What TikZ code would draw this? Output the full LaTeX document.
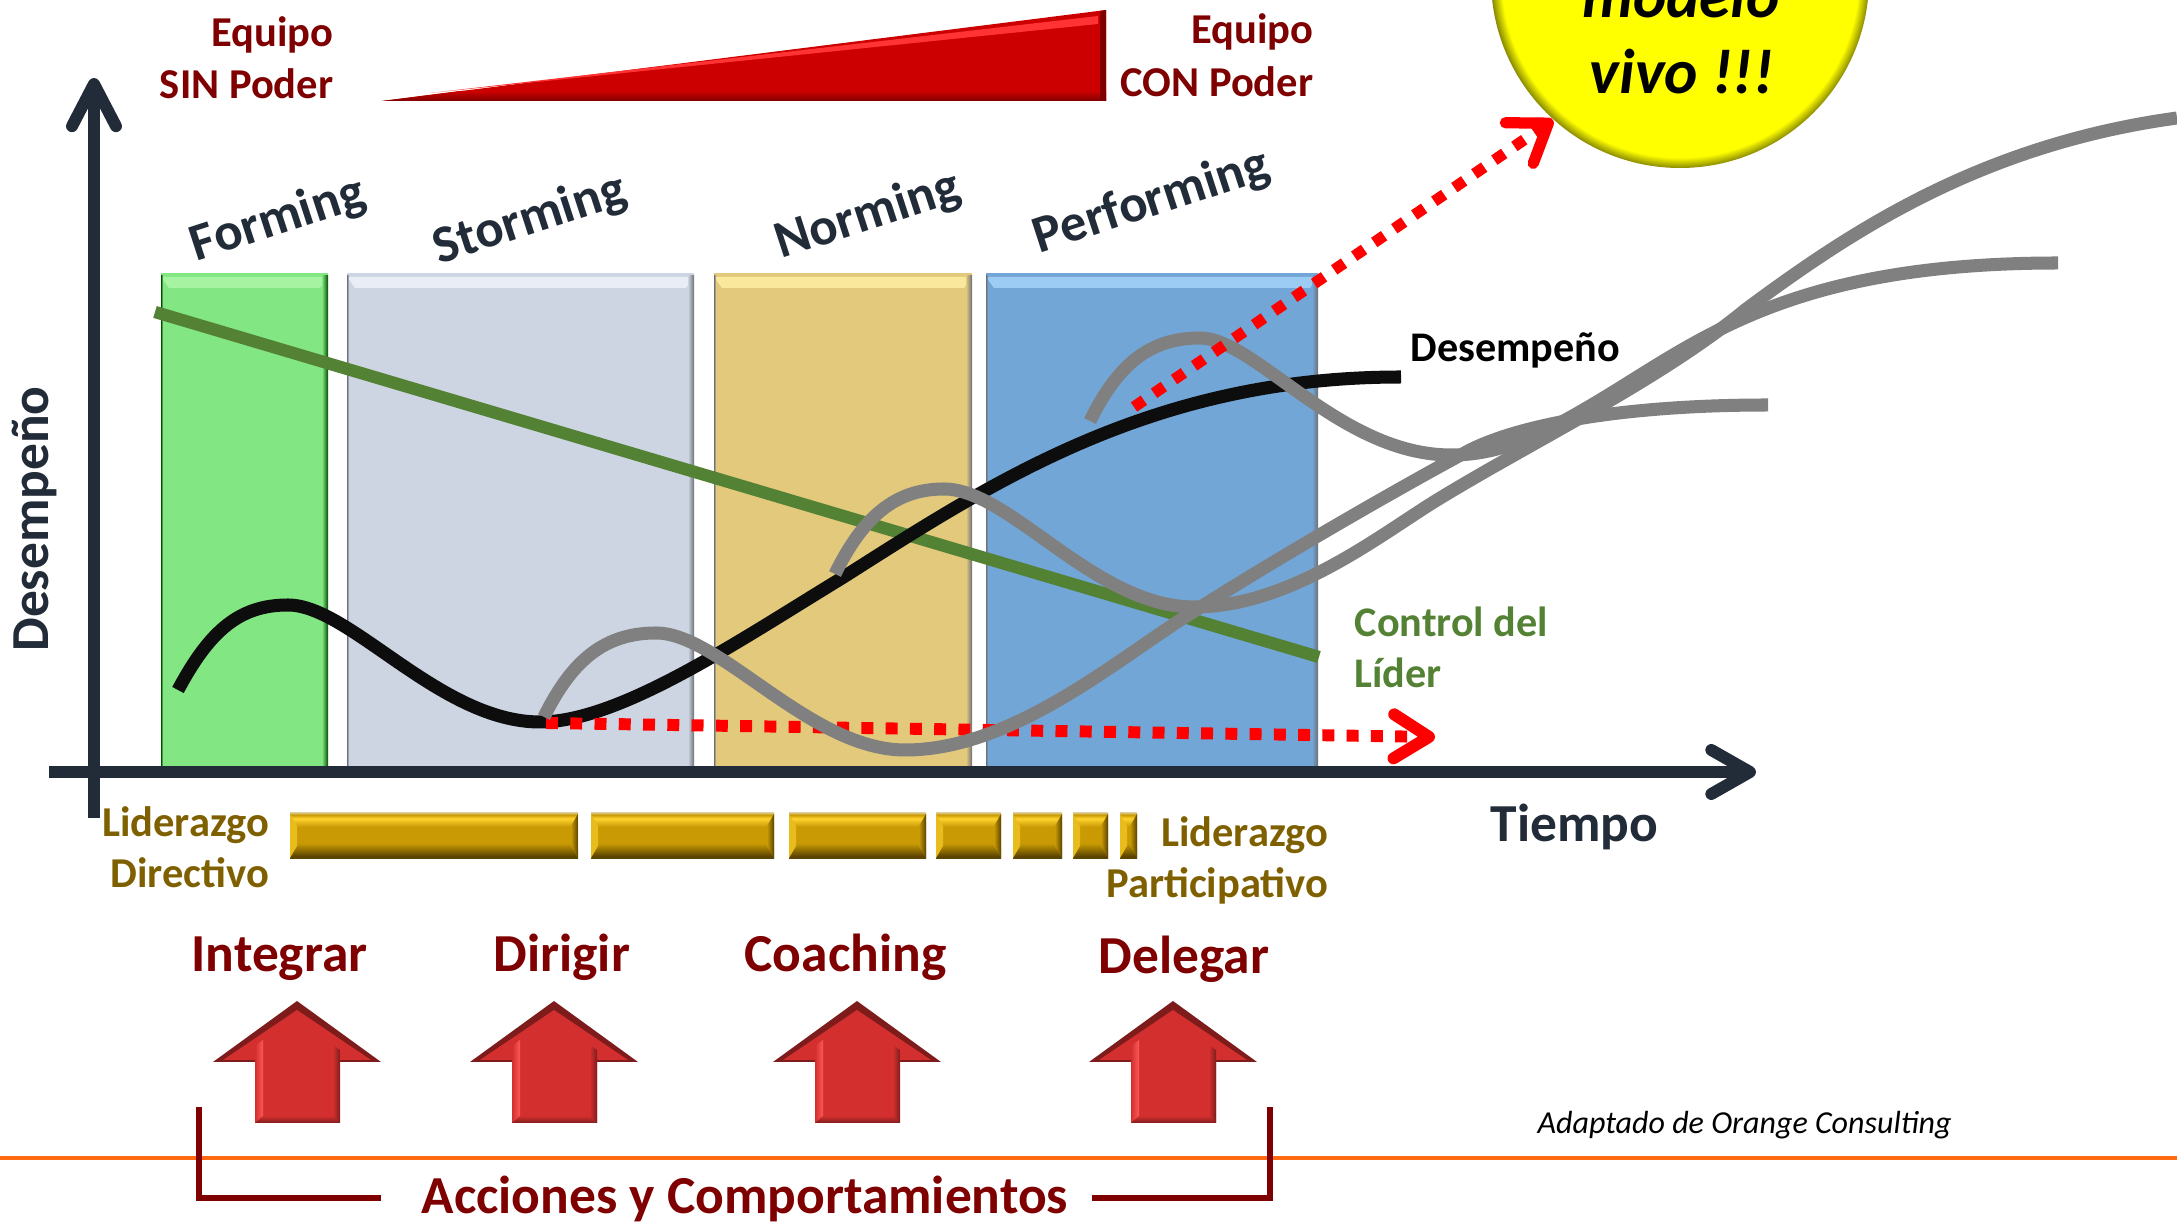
\documentclass[tikz,border=0pt]{standalone}
\usepackage{fontspec}
\setmainfont{Carlito}
\usetikzlibrary{arrows.meta}
\definecolor{axisdark}{HTML}{222B38}
\definecolor{darkred}{HTML}{7F0000}
\definecolor{leadergold}{HTML}{7F6000}
\definecolor{leadergreen}{HTML}{548235}
\definecolor{orangeline}{HTML}{FF6A13}
\definecolor{curvegray}{HTML}{808080}
\definecolor{upred}{HTML}{D32F2F}
\definecolor{goldbot}{HTML}{5A4400}
\definecolor{golddim}{HTML}{9A7600}
\definecolor{goldmid}{HTML}{C99A04}
\definecolor{goldtop}{HTML}{FFD32E}
\definecolor{goldpale}{HTML}{D8BE6A}
\definecolor{ballrim}{HTML}{8A8A00}
\definecolor{formgreen}{HTML}{82E683}
\definecolor{formlight}{HTML}{A6F3A2}
\definecolor{stormgray}{HTML}{CDD5E2}
\definecolor{stormlight}{HTML}{E9EEF6}
\definecolor{normyellow}{HTML}{E2C97B}
\definecolor{normlight}{HTML}{FAE99C}
\definecolor{perfblue}{HTML}{72A6D6}
\definecolor{perflight}{HTML}{9CCCF3}
\definecolor{edgedark}{HTML}{6C7078}
\pgfdeclareverticalshading{goldbevel}{100bp}{color(0bp)=(goldbot); color(25bp)=(goldbot); color(28bp)=(goldbot); color(36bp)=(golddim); color(42bp)=(goldmid); color(60bp)=(goldmid); color(69bp)=(goldtop); color(73bp)=(goldmid); color(75bp)=(goldpale); color(100bp)=(goldpale)}
\pgfdeclareradialshading{yellowball}{\pgfpointorigin}{color(0bp)=(yellow); color(23.6bp)=(yellow); color(25bp)=(ballrim); color(50bp)=(ballrim)}
\tikzset{
  stagelabel/.style={font=\bfseries\fontsize{15}{18}\selectfont,text=axisdark,rotate=18,inner sep=0pt},
  redlabel/.style={font=\bfseries\fontsize{12.1}{14}\selectfont,text=darkred,inner sep=0pt},
  actionlabel/.style={font=\bfseries\fontsize{15.2}{18}\selectfont,text=darkred,inner sep=0pt,anchor=base west},
  goldlabel/.style={font=\bfseries\fontsize{12.1}{14}\selectfont,text=leadergold,inner sep=0pt},
  greenlabel/.style={font=\bfseries\fontsize{12}{14}\selectfont,text=leadergreen,inner sep=0pt,anchor=base west},
  ballabel/.style={font=\bfseries\itshape\fontsize{18}{22}\selectfont,text=black,inner sep=0pt,anchor=base},
  graycurve/.style={draw=curvegray,line width=3.7pt},
  reddots/.style={draw=red,dash pattern=on 3.4pt off 3.5pt},
}
\newcommand{\stagebox}[7]{% left, top, right, bottom, main, light, dark
  \fill[#5] (#1,#2) rectangle (#3,#4);
  \fill[#6] (#1,#2+4) -- (#3,#2+4) -- (#3-8,#2+15) -- (#1+8,#2+15) -- cycle;
  \shade[left color=#5,right color=#7] (#3-6,#2+3) rectangle (#3,#4);
  \shade[left color=#7,right color=#5] (#1,#2+3) rectangle (#1+2,#4);
}
\newcommand{\goldbar}[2]{% left, right
  \shade[shading=goldbevel] (#1,813) rectangle (#2,859);
  \fill[goldtop!60!goldmid] (#1,814) -- (#1+7,826) -- (#1+7,846) -- (#1,858) -- cycle;
  \shade[left color=goldmid,right color=goldbot] (#2,814) -- (#2-7,826) -- (#2-7,846) -- (#2,858) -- cycle;
}
\begin{document}
\begin{tikzpicture}[x=0.01cm,y=-0.01cm]
\path[use as bounding box] (0,0) rectangle (2177,1225);
\clip (0,0) rectangle (2177,1225);
%footer line
\coordinate (footl) at (0,1158);
\coordinate (footr) at (2177,1158);
\draw[orangeline,line width=0.9pt] (footl) -- (footr);
%stages
\stagebox{161}{273}{328}{767}{formgreen}{formlight}{green!30!black}
\stagebox{347}{273}{694}{767}{stormgray}{stormlight}{edgedark}
\stagebox{714}{273}{972}{767}{normyellow}{normlight}{edgedark}
\stagebox{986}{273}{1318}{767}{perfblue}{perflight}{edgedark}
%power wedge
\fill[red!80!black] (382,101) -- (1106,10) -- (1106,101) -- cycle;
\shade[top color=red!80!black,bottom color=red!50!black] (460,91) -- (1106,91) -- (1106,101) -- (382,101) -- cycle;
\fill[red!80!white] (430,93) -- (1098,16) -- (1098,24) -- cycle;
\fill[red!50!black] (1100,11) -- (1106,10) -- (1106,101) -- (1100,101) -- cycle;
%axes
\coordinate (yfoot) at (94,818);
\coordinate (ytip) at (94,78);
\coordinate (xfoot) at (49,772);
\coordinate (xtip) at (1756,772);
\draw[axisdark,line width=3.4pt,-{Straight Barb[round,length=12pt,width=12.5pt]}] (yfoot) -- (ytip);
\draw[axisdark,line width=3.4pt,-{Straight Barb[round,length=11pt,width=12.5pt]}] (xfoot) -- (xtip);
%leader control
\coordinate (ctrlstart) at (155,312);
\coordinate (ctrlend) at (1319,657);
\draw[leadergreen,line width=3.5pt] (ctrlstart) -- (ctrlend);
%performance
\draw[black!95,line width=3.7pt] (178,690) .. controls (210,630) and (240,605) .. (288,605) .. controls (350,605) and (440,722) .. (540,722) .. controls (620,722) and (740,640) .. (842,578) .. controls (990,484) and (1150,377) .. (1401,377);
%stay on the flat path
\coordinate (flatstart) at (546,723);
\coordinate (flatend) at (1435,737);
\draw[reddots,line width=3.4pt,-{Straight Barb[round,length=10pt,width=12.5pt]}] (flatstart) -- (flatend);
%new cycles
\draw[graycurve] (544,717) .. controls (572,660) and (605,633) .. (656,633) .. controls (720,633) and (810,750) .. (905,750) .. controls (1010,750) and (1110,665) .. (1185,617) .. controls (1280,556) and (1410,482) .. (1470,450) .. controls (1520,425) and (1620,405) .. (1768,405);
\draw[graycurve] (835,574) .. controls (863,517) and (895,489) .. (944,489) .. controls (1010,489) and (1095,607) .. (1194,607) .. controls (1290,607) and (1380,535) .. (1437,500) .. controls (1530,443) and (1660,380) .. (1745,310) .. controls (1850,232) and (1980,145) .. (2177,118);
\draw[graycurve] (1090,421) .. controls (1118,364) and (1150,338) .. (1200,338) .. controls (1255,338) and (1340,455) .. (1451,455) .. controls (1500,455) and (1540,436) .. (1600,400) .. controls (1700,340) and (1790,263) .. (2058,263);
\coordinate (modelstart) at (1134,407);
\coordinate (modelend) at (1553,120);
\draw[reddots,line width=3.2pt,-{Straight Barb[round,length=10pt,width=14pt]}] (modelstart) -- (modelend);
%ball
\shade[shading=yellowball] (1680,-21) circle (189);
\node[ballabel] (modelword) at (1681,18) {modelo};
\node[ballabel] (vivoword) at (1682,94) {vivo !!!};
%top labels
\node[redlabel,anchor=base east] (sinone) at (334,47) {Equipo};
\node[redlabel,anchor=base east] (sintwo) at (334,99) {SIN Poder};
\node[redlabel,anchor=base east] (conone) at (1314,44) {Equipo};
\node[redlabel,anchor=base east] (contwo) at (1314,97) {CON Poder};
\node[stagelabel] (forming) at (278,220) {Forming};
\node[stagelabel] (storming) at (530,220) {Storming};
\node[stagelabel] (norming) at (868,216) {Norming};
\node[stagelabel] (performing) at (1152,202) {Performing};
\node[font=\bfseries\fontsize{15.2}{18}\selectfont,text=axisdark,rotate=90,inner sep=0pt] (yname) at (34,519) {Desempeño};
\node[font=\bfseries\fontsize{15.2}{18}\selectfont,text=axisdark,anchor=base west,inner sep=0pt] (xname) at (1490,842) {Tiempo};
\node[font=\bfseries\fontsize{12}{14}\selectfont,text=black,anchor=base west,inner sep=0pt] (curvename) at (1410,362) {Desempeño};
\node[greenlabel] (ctrlone) at (1354,637) {Control del};
\node[greenlabel] (ctrltwo) at (1354,688) {Líder};
%leadership
\foreach \a/\b in {290/578,591/774,789/926,936/1001,1013/1062,1073/1108,1120/1137}
  \goldbar{\a}{\b};
\node[goldlabel,anchor=base east] (dirone) at (270,837) {Liderazgo};
\node[goldlabel,anchor=base east] (dirtwo) at (270,888) {Directivo};
\node[goldlabel,anchor=base east] (parone) at (1329,847) {Liderazgo};
\node[goldlabel,anchor=base east] (partwo) at (1329,898) {Participativo};
%actions
\node[actionlabel] (integrar) at (191,972) {Integrar};
\node[actionlabel] (dirigir) at (493,972) {Dirigir};
\node[actionlabel] (coaching) at (744,972) {Coaching};
\node[actionlabel] (delegar) at (1098,974) {Delegar};
\foreach \x in {297,554,857,1173} % one arrow under each action
{
\begin{scope}[shift={(\x,0)}]
\fill[upred!60!black] (0,1001) -- (84,1062) -- (-84,1062) -- cycle;
\fill[upred] (0,1010) -- (74,1060) -- (43,1060) -- (43,1123) -- (-42,1123) -- (-42,1060) -- (-74,1060) -- cycle;
\shade[left color=upred,right color=red!65!white] (-42,1046) -- (-34,1040) -- (-34,1123) -- (-42,1123) -- cycle;
\shade[left color=upred,right color=upred!60!black] (36,1045) -- (43,1050) -- (43,1123) -- (36,1123) -- cycle;
\shade[top color=upred,bottom color=upred!60!black] (-34,1116) -- (36,1116) -- (43,1123) -- (-42,1123) -- cycle;
\end{scope}
}
%bracket
\coordinate (brackla) at (199,1107);
\coordinate (bracklb) at (381,1198);
\coordinate (brackra) at (1270,1107);
\coordinate (brackrb) at (1092,1198);
\draw[darkred,line width=1.6pt] (brackla) |- (bracklb);
\draw[darkred,line width=1.6pt] (brackra) |- (brackrb);
\node[actionlabel] (acciones) at (421,1214) {Acciones y Comportamientos};
\node[font=\itshape\fontsize{9.1}{11}\selectfont,text=black,anchor=base west,inner sep=0pt] (credit) at (1537,1134) {Adaptado de Orange Consulting};
\end{tikzpicture}
\end{document}
